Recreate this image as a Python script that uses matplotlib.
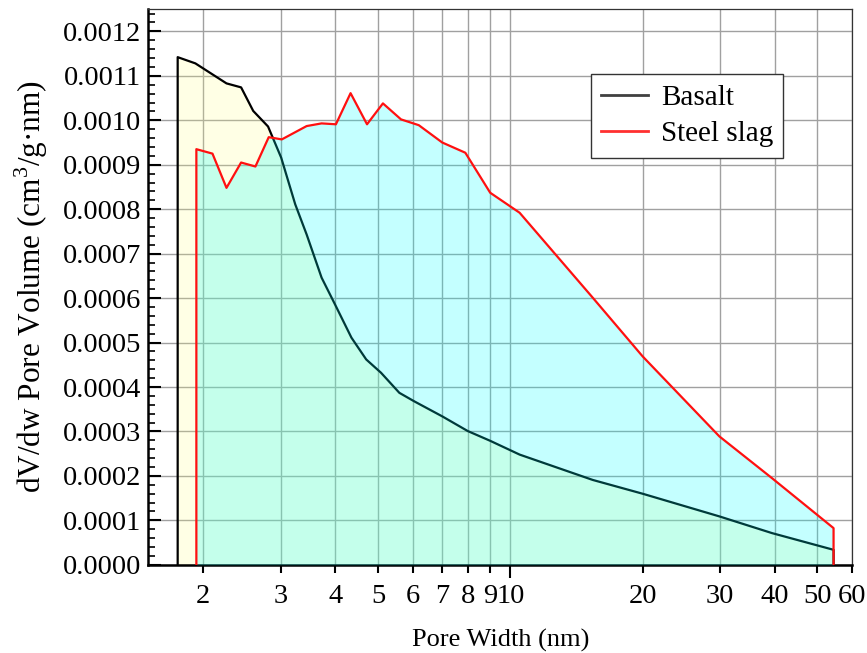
import matplotlib.pyplot as plt
from matplotlib.ticker import FixedLocator, FixedFormatter, MultipleLocator, FormatStrFormatter

plt.rcParams['font.family'] = ['Liberation Serif', 'DejaVu Serif']
plt.rcParams['mathtext.fontset'] = 'custom'
plt.rcParams['mathtext.rm'] = 'Liberation Serif'

# pore width (nm) and dV/dw (cm3/g.nm)
basalt_w = [1.75, 1.92, 2.26, 2.44, 2.60, 2.81, 3.01, 3.24, 3.44, 3.72, 3.99, 4.35,
            4.70, 5.08, 5.59, 6.04, 7.0, 8.0, 9.0, 10.5, 15.4, 20.0, 29.9, 39.4, 54.4]
basalt_v = [0.001142, 0.001128, 0.001083, 0.001074, 0.001021, 0.000986, 0.000916,
            0.000811, 0.000743, 0.000646, 0.000586, 0.000511, 0.000462, 0.000432,
            0.000387, 0.000368, 0.000334, 0.000301, 0.000279, 0.000248, 0.000191,
            0.000160, 0.000109, 0.0000714, 0.0000338]

slag_w = [1.93, 2.10, 2.26, 2.44, 2.63, 2.82, 3.02, 3.44, 3.72, 4.01, 4.33, 4.72,
          5.13, 5.64, 6.19, 7.0, 7.9, 9.0, 10.5, 15.4, 20.0, 29.9, 39.4, 54.4]
slag_v = [0.000935, 0.000925, 0.000848, 0.000905, 0.000896, 0.000962, 0.000957,
          0.000987, 0.000993, 0.000991, 0.001061, 0.000991, 0.001038, 0.001002,
          0.000989, 0.000950, 0.000927, 0.000837, 0.000792, 0.000601, 0.000469,
          0.000289, 0.000195, 0.0000826]

minor_ticks = [2, 3, 4, 5, 6, 7, 8, 9, 20, 30, 40, 50, 60]
minor_labels = [str(t) for t in minor_ticks]

fig = plt.figure(figsize=(8.67, 6.53), dpi=100)
ax = fig.add_axes([0.171, 0.135, 0.812, 0.851])

# close each curve down to zero at both ends
bx = [basalt_w[0]] + basalt_w + [basalt_w[-1]]
by = [0] + basalt_v + [0]
sx = [slag_w[0]] + slag_w + [slag_w[-1]]
sy = [0] + slag_v + [0]

ax.fill_between(bx, by, 0, color='#ffff80', alpha=0.2, lw=0, zorder=2)
ax.plot(bx, by, color='black', lw=1.6, zorder=3)
ax.fill_between(sx, sy, 0, color='#00ffff', alpha=0.23, lw=0, zorder=4)
ax.plot(sx, sy, color='#ff1010', lw=1.6, zorder=5)

ax.plot([], [], color='#404040', lw=2, label='Basalt')
ax.plot([], [], color='#ff3030', lw=2, label='Steel slag')

ax.set_xscale('log')
ax.set_xlim(1.5, 60)
ax.set_ylim(0, 0.00125)

ax.xaxis.set_major_locator(FixedLocator([10]))
ax.xaxis.set_major_formatter(FixedFormatter(['10']))
ax.xaxis.set_minor_locator(FixedLocator(minor_ticks))
ax.xaxis.set_minor_formatter(FixedFormatter(minor_labels))
ax.yaxis.set_major_locator(MultipleLocator(0.0001))
ax.yaxis.set_minor_locator(MultipleLocator(0.00002))
ax.yaxis.set_major_formatter(FormatStrFormatter('%.4f'))

ax.tick_params(axis='x', which='major', length=9, width=1.5, labelsize=20.5, pad=5)
ax.tick_params(axis='x', which='minor', length=6, width=1.5, labelsize=20.5, pad=8)
ax.tick_params(axis='y', which='major', direction='in', length=9, width=1.5,
               labelsize=20.5, pad=5)
ax.tick_params(axis='y', which='minor', direction='in', length=5, width=1.2)
ax.tick_params(top=False, right=False, which='both')

ax.grid(True, which='both', axis='x', color='#a0a0a0', lw=1)
ax.grid(True, which='major', axis='y', color='#a0a0a0', lw=1)
ax.set_axisbelow(True)

for s in ['left', 'bottom']:
    ax.spines[s].set_linewidth(1.8)
for s in ['top', 'right']:
    ax.spines[s].set_linewidth(0.9)
    ax.spines[s].set_color('#333333')

ax.set_xlabel('Pore Width (nm)', fontsize=19, labelpad=14)
ax.set_ylabel('dV/dw Pore Volume (cm$^3$/g·nm)', fontsize=22.5, labelpad=9)

leg = ax.legend(loc='upper right', bbox_to_anchor=(0.902, 0.883), fontsize=21,
                fancybox=False, edgecolor='#333333', framealpha=1, borderaxespad=0,
                handlelength=1.6, handletextpad=0.45, borderpad=0.35,
                labelspacing=0.35)
leg.get_frame().set_linewidth(1)

fig.savefig('out.png', dpi=100)
